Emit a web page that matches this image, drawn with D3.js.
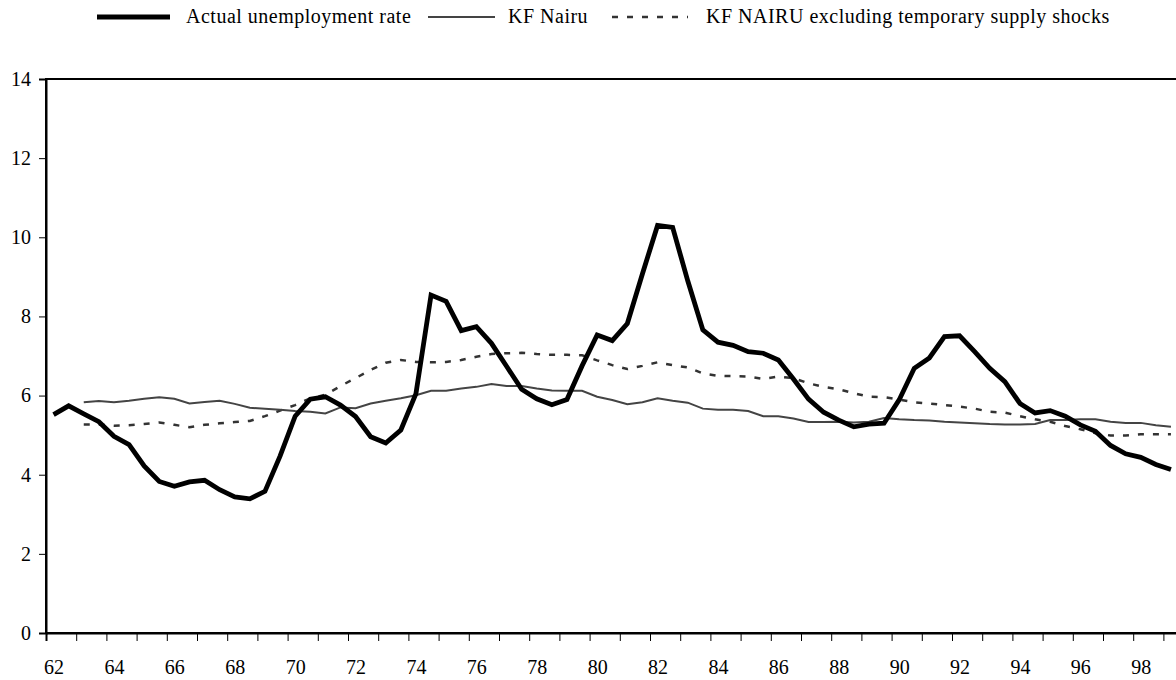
<!DOCTYPE html>
<html>
<head>
<meta charset="utf-8">
<script src="https://cdn.jsdelivr.net/npm/d3@7"></script>
<style>
  html, body { margin: 0; padding: 0; background: #fff; }
  svg { display: block; }
  svg text { font-family: "Liberation Serif", "Times New Roman", Times, serif; }
</style>
</head>
<body>
<svg id="chart" width="1176" height="680"></svg>
<script>
(function () {
  "use strict";

  // half-yearly observations, 1962H1 .. 1999H1
  var startYear = 62;
  var yearLabels = [62, 64, 66, 68, 70, 72, 74, 76, 78, 80, 82, 84, 86, 88, 90, 92, 94, 96, 98];
  var yTicks = [0, 2, 4, 6, 8, 10, 12, 14];

  var actual = [
    5.52, 5.74, 5.54, 5.34, 4.97, 4.76, 4.22, 3.83, 3.71, 3.82,
    3.86, 3.62, 3.44, 3.39, 3.58, 4.47, 5.48, 5.91, 5.97, 5.76,
    5.47, 4.96, 4.80, 5.13, 6.05, 8.54, 8.38, 7.64, 7.74, 7.32,
    6.74, 6.16, 5.92, 5.77, 5.90, 6.75, 7.53, 7.39, 7.82, 9.08,
    10.30, 10.25, 8.90, 7.66, 7.35, 7.27, 7.11, 7.07, 6.90, 6.42,
    5.91, 5.58, 5.38, 5.21, 5.28, 5.30, 5.89, 6.69, 6.95, 7.49,
    7.51, 7.11, 6.69, 6.35, 5.80, 5.56, 5.62, 5.48, 5.26, 5.10,
    4.74, 4.53, 4.44, 4.26, 4.13
  ];

  var kfNairu = [
    null, null, 5.83, 5.86, 5.83, 5.87, 5.92, 5.96, 5.92, 5.80,
    5.84, 5.87, 5.79, 5.69, 5.67, 5.64, 5.61, 5.59, 5.55, 5.70,
    5.68, 5.80, 5.87, 5.93, 6.01, 6.12, 6.12, 6.18, 6.22, 6.29,
    6.24, 6.24, 6.18, 6.13, 6.12, 6.12, 5.97, 5.89, 5.78, 5.83,
    5.93, 5.87, 5.82, 5.67, 5.64, 5.64, 5.61, 5.48, 5.48, 5.42,
    5.33, 5.33, 5.34, 5.32, 5.34, 5.43, 5.40, 5.38, 5.37, 5.34,
    5.32, 5.30, 5.28, 5.27, 5.27, 5.28, 5.38, 5.38, 5.40, 5.40,
    5.34, 5.31, 5.31, 5.25, 5.21
  ];

  var kfNairuExShocks = [
    null, null, 5.27, 5.27, 5.24, 5.25, 5.28, 5.32, 5.26, 5.20,
    5.26, 5.30, 5.33, 5.36, 5.48, 5.62, 5.76, 5.93, 6.02, 6.24,
    6.44, 6.65, 6.83, 6.90, 6.85, 6.84, 6.85, 6.90, 6.98, 7.05,
    7.07, 7.08, 7.05, 7.03, 7.03, 7.02, 6.89, 6.77, 6.67, 6.75,
    6.84, 6.77, 6.71, 6.56, 6.50, 6.49, 6.48, 6.42, 6.48, 6.44,
    6.31, 6.22, 6.16, 6.06, 5.97, 5.96, 5.90, 5.83, 5.80, 5.76,
    5.72, 5.67, 5.59, 5.57, 5.48, 5.40, 5.34, 5.23, 5.15, 5.05,
    4.99, 4.99, 5.02, 5.02, 5.02
  ];

  var seriesNames = ["Actual unemployment rate", "KF Nairu", "KF NAIRU excluding temporary supply shocks"];

  var fontStack = "'Liberation Serif', 'Times New Roman', Times, serif";
  var plot = { left: 46, top: 79, bottom: 633, step: 15.1 };
  var n = actual.length;
  plot.right = plot.left + plot.step * n;

  var svg = d3.select("#chart");

  // each observation sits in the middle of its half-year slot
  var x = d3.scaleLinear()
    .domain([startYear - 0.25, startYear - 0.25 + n / 2])
    .range([plot.left, plot.right]);
  var y = d3.scaleLinear().domain([0, 14]).range([plot.bottom, plot.top]);

  function periodOf(i) { return startYear + i / 2; }

  // frame (right side falls outside the picture)
  svg.append("rect")
    .attr("x", plot.left).attr("y", plot.top)
    .attr("width", plot.right - plot.left).attr("height", plot.bottom - plot.top)
    .attr("fill", "none").attr("stroke", "#000").attr("stroke-width", 2);

  // y axis
  var yAxis = svg.append("g")
    .attr("transform", "translate(" + plot.left + ",0)")
    .call(d3.axisLeft(y).tickValues(yTicks).tickSize(7).tickPadding(8).tickFormat(d3.format("d")))
    .attr("font-family", fontStack)
    .attr("font-size", 20);
  yAxis.select(".domain").attr("stroke", "#000").attr("stroke-width", 2);
  yAxis.selectAll(".tick line").attr("stroke", "#000");
  yAxis.selectAll("text").attr("fill", "#000");

  // x axis: a tick every year, a label every two years
  var yearBounds = d3.range(0, n / 2 + 0.01, 1).map(function (k) { return startYear - 0.25 + k; });
  var xTicks = svg.append("g")
    .attr("transform", "translate(0," + plot.bottom + ")")
    .call(d3.axisBottom(x).tickValues(yearBounds).tickSize(8).tickFormat(""));
  xTicks.select(".domain").attr("stroke", "#000").attr("stroke-width", 2);
  xTicks.selectAll(".tick line").attr("stroke", "#000");

  var xLabels = svg.append("g")
    .attr("transform", "translate(0," + plot.bottom + ")")
    .call(d3.axisBottom(x).tickValues(yearLabels).tickSize(0).tickPadding(27).tickFormat(d3.format("d")))
    .attr("font-family", fontStack)
    .attr("font-size", 20);
  xLabels.select(".domain").remove();
  xLabels.selectAll("text").attr("fill", "#000");

  var line = d3.line()
    .defined(function (d) { return d != null; })
    .x(function (d, i) { return x(periodOf(i)); })
    .y(function (d) { return y(d); });

  var styles = [
    { data: actual, stroke: "#000", width: 4.8, dash: null },
    { data: kfNairu, stroke: "#444", width: 2, dash: null },
    { data: kfNairuExShocks, stroke: "#333", width: 2.5, dash: "6,9" }
  ];

  // draw the NAIRU lines first so the actual rate sits on top
  [2, 1, 0].forEach(function (k) {
    var s = styles[k];
    svg.append("path")
      .datum(s.data)
      .attr("fill", "none")
      .attr("stroke", s.stroke)
      .attr("stroke-width", s.width)
      .attr("stroke-linejoin", "miter")
      .attr("stroke-dasharray", s.dash)
      .attr("d", line);
  });

  // legend
  var legendItems = [
    { x1: 97, x2: 170, tx: 186 },
    { x1: 428, x2: 495, tx: 508 },
    { x1: 612, x2: 688, tx: 706 }
  ];
  var legend = svg.append("g").attr("class", "legend");
  legendItems.forEach(function (item, k) {
    var s = styles[k];
    legend.append("line")
      .attr("x1", item.x1).attr("x2", item.x2).attr("y1", 17).attr("y2", 17)
      .attr("stroke", s.stroke)
      .attr("stroke-width", k === 0 ? 5 : s.width)
      .attr("stroke-dasharray", s.dash);
    legend.append("text")
      .attr("x", item.tx).attr("y", 23)
      .attr("font-size", 20)
      .attr("letter-spacing", 0.5)
      .attr("fill", "#000")
      .text(seriesNames[k]);
  });
})();
</script>
</body>
</html>
